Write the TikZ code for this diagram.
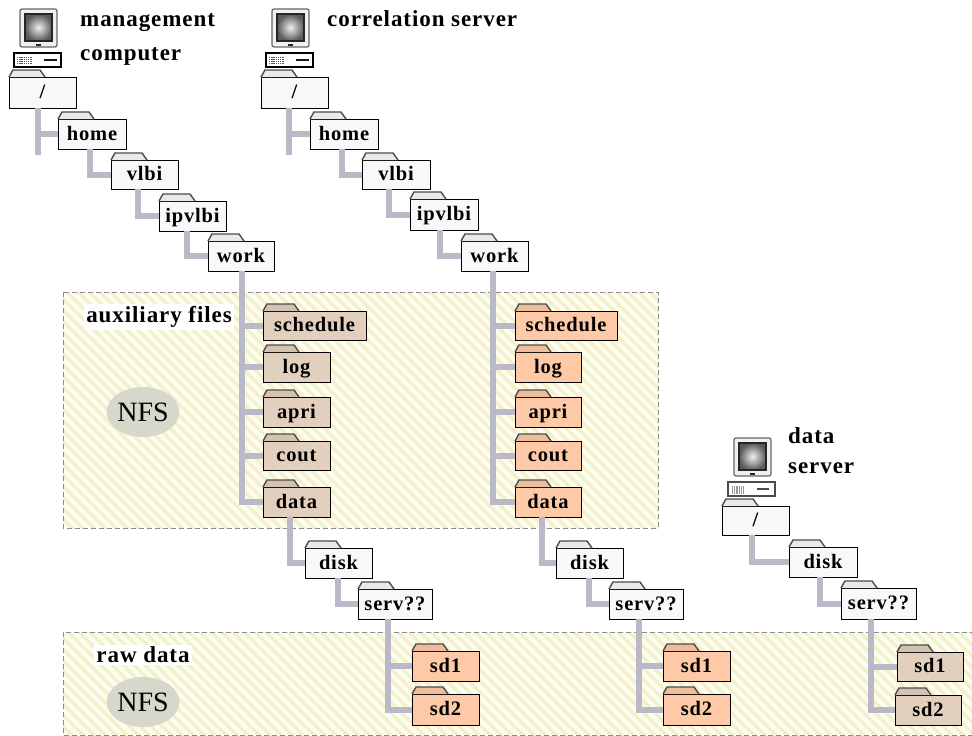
\documentclass[tikz,border=0pt]{standalone}
\usepackage{fontspec}
\setmainfont{Liberation Serif}
\newfontfamily\lbl[LetterSpace=4]{Liberation Serif}
\definecolor{tan}{HTML}{E3CFBD}
\definecolor{org}{HTML}{FDC9A6}
\definecolor{wht}{HTML}{F8F8F8}
\definecolor{conn}{HTML}{B9B9C7}
\definecolor{hatchbg}{HTML}{FDFCF0}
\definecolor{hatch}{HTML}{F3F0C6}
\definecolor{nfs}{HTML}{D5D8CB}
\usetikzlibrary{shapes.geometric}
\tikzset{
  folderbox/.style={draw=black,line width=1pt,inner sep=0pt,outer sep=0pt,anchor=north west,
    font=\lbl\bfseries\fontsize{20.5}{20.5}\selectfont,text height=16pt,text depth=4pt},
  foldertab/.style={draw=black!70,line width=1.4pt},
  link/.style={draw=conn,line width=6pt,line cap=butt,line join=miter},
  region/.style={draw=black!45,line width=.7pt,dash pattern=on 5pt off 3pt},
  caption/.style={font=\lbl\bfseries\fontsize{23}{23}\selectfont,anchor=base west,inner sep=0pt},
  areatag/.style={fill=white!97!hatchbg,inner sep=2pt,font=\lbl\bfseries\fontsize{23}{23}\selectfont},
  nfsblob/.style={ellipse,fill=nfs,inner sep=0pt,minimum width=67pt,minimum height=50pt,font=\fontsize{28}{28}\selectfont}
}
% name, x1, y1, x2, y2, fill, text
\newcommand\folder[7]{%
  \node[folderbox,fill=#6,minimum width={(#4-#2)*1pt},minimum height={(#5-#3)*1pt}] (#1) at (#2,#3) {#7};
  \draw[foldertab,fill=#6!94!black] (#2,#3) -- ++(4,-7) -- ++(27,0) -- ++(5,7);
}
% monitor and case: x of monitor left, y of monitor top, base outline
\newcommand\monitorcase[3]{%
  \begin{scope}[shift={(#1,#2)}]
    \draw[black!60,fill=black!6,line width=1.2pt,rounded corners=2pt] (0,0) rectangle (37,38);
    \fill[black!85] (16,34.5) rectangle (21,37);
    \draw[black!85,line width=1.4pt,inner color=black!6,outer color=black!65] (5,5) rectangle (32,32);
    \draw[#3,fill=white,line width=1.2pt] (-6,44) rectangle (41,58);
  \end{scope}
}
\begin{document}
\begin{tikzpicture}[x=1pt,y=-1pt]
\useasboundingbox (0,0) rectangle (972,736);
\fill[white] (0,0) rectangle (972,736);
% shaded regions
\begin{scope}
  \clip (63,292) rectangle (658,528);
  \fill[hatchbg] (63,292) rectangle (658,528);
  \foreach \k in {0,...,80} {\draw[hatch,line width=3pt] ({63+\k*11},530) -- ++(-240,-240);}
\end{scope}
\begin{scope}
  \clip (63,632) rectangle (972,735);
  \fill[hatchbg] (63,632) rectangle (972,735);
  \foreach \k in {0,...,95} {\draw[hatch,line width=3pt] ({63+\k*11},737) -- ++(-108,-108);}
\end{scope}
\draw[region] (63,292) rectangle (658,528);
\draw[region] (975,632) -- (63,632) -- (63,735) -- (975,735);
\node[areatag] (auxtag) at (159,317) {auxiliary files};
\node[areatag] (rawtag) at (143,655) {raw data};
\node[nfsblob] (nfsa) at (143,412) {NFS};
\node[nfsblob] (nfsb) at (143,702) {NFS};
% computers
\monitorcase{20}{9}{black}
\monitorcase{272}{9}{black}
\monitorcase{734}{438}{black!70}
\foreach \bx in {17,269} {
  \foreach \i in {0,...,6} {\foreach \j in {0,...,3} {
    \fill[black!65] ({\bx+\i*2.2},{57+\j*2}) rectangle ++(1.4,1.2);
  }}
  \fill[black!90] ({\bx+27},59) rectangle ++(13,2.4);
}
\foreach \i in {0,...,5} {\fill[black!40] ({732+\i*2.2},486) rectangle ++(1.2,8);}
\fill[black!70] (757,488) rectangle ++(12,1.6);
\node[caption] (tmgmt) at (80,27) {management};
\node[caption] (tcomp) at (80,60) {computer};
\node[caption] (tcorr) at (327,27) {correlation server};
\node[caption] (tdata) at (788,443) {data};
\node[caption] (tserv) at (788,473) {server};
% management column
\folder{ar}{9}{77}{76}{108}{wht}{/}
\folder{ah}{58}{119}{126}{149}{wht}{home}
\folder{av}{111}{160}{178}{189}{wht}{vlbi}
\folder{ai}{159}{201}{226}{231}{wht}{ipvlbi}
\folder{aw}{208}{241}{274}{271}{wht}{work}
\folder{as}{263}{311}{366}{340}{tan}{schedule}
\folder{al}{263}{352}{330}{382}{tan}{log}
\folder{ap}{263}{397}{330}{427}{tan}{apri}
\folder{ac}{263}{441}{330}{470}{tan}{cout}
\folder{ad}{263}{487}{330}{517}{tan}{data}
\folder{ak}{305}{548}{372}{578}{wht}{disk}
\folder{ae}{358}{589}{432}{619}{wht}{serv??}
\folder{a1}{412}{651}{479}{681}{org}{sd1}
\folder{a2}{412}{694}{479}{725}{org}{sd2}
% correlation column
\folder{br}{261}{77}{328}{108}{wht}{/}
\folder{bh}{310}{119}{378}{149}{wht}{home}
\folder{bv}{362}{160}{430}{189}{wht}{vlbi}
\folder{bi}{410}{199}{478}{230}{wht}{ipvlbi}
\folder{bw}{461}{241}{528}{271}{wht}{work}
\folder{bs}{515}{311}{617}{340}{org}{schedule}
\folder{bl}{515}{352}{581}{382}{org}{log}
\folder{bp}{515}{397}{581}{427}{org}{apri}
\folder{bc}{515}{441}{581}{470}{org}{cout}
\folder{bd}{515}{487}{581}{517}{org}{data}
\folder{bk}{556}{548}{623}{578}{wht}{disk}
\folder{be}{609}{589}{683}{619}{wht}{serv??}
\folder{b1}{663}{651}{730}{681}{org}{sd1}
\folder{b2}{663}{694}{730}{725}{org}{sd2}
% data server column
\folder{cr}{722}{506}{789}{535}{wht}{/}
\folder{ck}{789}{547}{857}{577}{wht}{disk}
\folder{ce}{841}{588}{916}{619}{wht}{serv??}
\folder{c1}{897}{652}{963}{681}{tan}{sd1}
\folder{c2}{895}{695}{961}{725}{tan}{sd2}
% connectors
\draw[link] ([xshift=29pt]ar.south west) -- ++(0,47);
\draw[link] ([xshift=29pt]ar.south west |- ah.west) -- (ah.west);
\draw[link] ([xshift=32pt]ah.south west) |- (av.west);
\draw[link] ([xshift=27pt]av.south west) |- (ai.west);
\draw[link] ([xshift=28pt]ai.south west) |- (aw.west);
\draw[link] ([xshift=34pt]aw.south west) |- (ad.west);
\foreach \n in {as,al,ap,ac} {\draw[link] ([xshift=34pt]aw.south west |- \n.west) -- (\n.west);}
\draw[link] ([xshift=27pt]ad.south west) |- (ak.west);
\draw[link] ([xshift=33pt]ak.south west) |- (ae.west);
\draw[link] ([xshift=30pt]ae.south west) |- (a2.west);
\draw[link] ([xshift=30pt]ae.south west |- a1.west) -- (a1.west);
\draw[link] ([xshift=28pt]br.south west) -- ++(0,47);
\draw[link] ([xshift=28pt]br.south west |- bh.west) -- (bh.west);
\draw[link] ([xshift=32pt]bh.south west) |- (bv.west);
\draw[link] ([xshift=27pt]bv.south west) |- (bi.west);
\draw[link] ([xshift=30pt]bi.south west) |- (bw.west);
\draw[link] ([xshift=32pt]bw.south west) |- (bd.west);
\foreach \n in {bs,bl,bp,bc} {\draw[link] ([xshift=32pt]bw.south west |- \n.west) -- (\n.west);}
\draw[link] ([xshift=27pt]bd.south west) |- (bk.west);
\draw[link] ([xshift=33pt]bk.south west) |- (be.west);
\draw[link] ([xshift=30pt]be.south west) |- (b2.west);
\draw[link] ([xshift=30pt]be.south west |- b1.west) -- (b1.west);
\draw[link] ([xshift=30pt]cr.south west) |- (ck.west);
\draw[link] ([xshift=31pt]ck.south west) |- (ce.west);
\draw[link] ([xshift=30pt]ce.south west) |- (c2.west);
\draw[link] ([xshift=30pt]ce.south west |- c1.west) -- (c1.west);
\end{tikzpicture}
\end{document}
